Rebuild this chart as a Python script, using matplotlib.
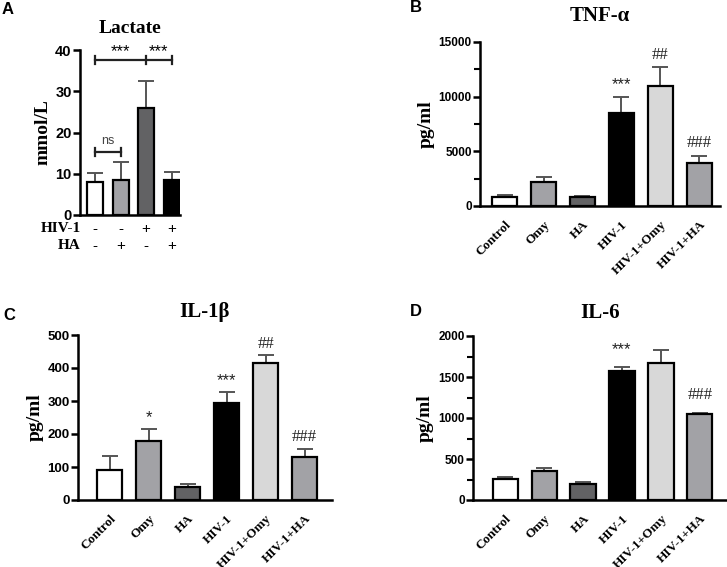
import matplotlib
matplotlib.use("Agg")
import matplotlib.pyplot as plt
import numpy as np

W, H = 727, 567
SERIF = "Liberation Serif"
SANS = "Liberation Sans"

# ---------------- data ----------------
lactate_mean = [8.1, 8.6, 25.9, 8.4]
lactate_err = [2.2, 4.3, 6.7, 2.1]
lactate_hiv = ["-", "-", "+", "+"]
lactate_ha = ["-", "+", "-", "+"]
lactate_colors = ["#ffffff", "#a2a2a6", "#626264", "#000000"]

groups = ["Control", "Omy", "HA", "HIV-1", "HIV-1+Omy", "HIV-1+HA"]
group_colors = ["#ffffff", "#a2a2a6", "#626264", "#000000", "#d8d8d8", "#a2a2a6"]

tnf_mean = [820, 2150, 820, 8500, 11000, 3900]
tnf_err = [200, 520, 100, 1500, 1700, 700]
tnf_sig = ["", "", "", "***", "##", "###"]

il1b_mean = [90, 178, 38, 295, 415, 130]
il1b_err = [43, 37, 12, 32, 23, 25]
il1b_sig = ["", "*", "", "***", "##", "###"]

il6_mean = [260, 355, 200, 1570, 1670, 1045]
il6_err = [20, 40, 25, 55, 160, 20]
il6_sig = ["", "", "", "***", "", "###"]

fig = plt.figure(figsize=(W / 100, H / 100), dpi=100)


def add_ax(left, top, right, bottom):
    return fig.add_axes([left / W, 1 - bottom / H, (right - left) / W, (bottom - top) / H])


def style(ax, ymax, step, minor=None, ylabel="pg/ml", tsize=9):
    ax.set_ylim(0, ymax)
    ax.set_yticks(np.arange(0, ymax + 1, step))
    if minor:
        ax.set_yticks(np.arange(0, ymax + 1, minor), minor=True)
        ax.tick_params(axis="y", which="minor", length=4, width=1.5)
    for s in ["top", "right"]:
        ax.spines[s].set_visible(False)
    for s in ["left", "bottom"]:
        ax.spines[s].set_linewidth(1.8)
    ax.tick_params(axis="y", which="major", length=5, width=1.8, pad=1)
    for lab in ax.get_yticklabels():
        lab.set_fontfamily(SANS)
        lab.set_fontweight("bold")
        lab.set_fontsize(tsize)
    ax.set_ylabel(ylabel, fontfamily=SERIF, fontweight="bold", fontsize=14, labelpad=3)


def bars(ax, means, errs, colors, width=0.65):
    x = np.arange(len(means))
    ax.bar(x, means, width=width, color=colors, edgecolor="black", linewidth=1.6, zorder=2)
    ax.errorbar(x, means, yerr=[np.zeros(len(errs)), errs], fmt="none", ecolor="#555555",
                elinewidth=1.4, capsize=6, capthick=1.4, zorder=1)
    return x


def group_xticks(ax, x):
    ax.set_xticks(x)
    ax.set_xticklabels(groups, rotation=45, ha="right", rotation_mode="anchor",
                       fontfamily=SERIF, fontweight="bold", fontsize=9.5)
    ax.tick_params(axis="x", length=0, pad=9)


def sig(ax, x, means, errs, labels, off):
    for xi, m, e, s in zip(x, means, errs, labels):
        if s:
            ax.text(xi, m + e + off, s, ha="center", va="bottom", fontsize=12,
                    fontfamily=SANS if s.startswith("*") else SERIF, color="#222222")


# ---------------- Panel A ----------------
axA = add_ax(80, 50, 180, 215)
xA = bars(axA, lactate_mean, lactate_err, lactate_colors, width=0.63)
axA.set_xlim(-0.59, 3.33)
style(axA, 40, 10, ylabel="mmol/L", tsize=10.5)
axA.set_xticks([])
axA.set_title("Lactate", fontfamily=SERIF, fontweight="bold", fontsize=14, pad=12)
for xi, h, a in zip(xA, lactate_hiv, lactate_ha):
    axA.text(xi, -3.3, h, ha="center", va="center", fontsize=11, fontfamily=SANS)
    axA.text(xi, -7.4, a, ha="center", va="center", fontsize=11, fontfamily=SANS)
axA.text(-0.55, -3.3, "HIV-1", ha="right", va="center", fontsize=11, fontfamily=SERIF,
         fontweight="bold", clip_on=False)
axA.text(-0.55, -7.4, "HA", ha="right", va="center", fontsize=11, fontfamily=SERIF,
         fontweight="bold", clip_on=False)
# brackets
yb = 37.5
axA.plot([0, 3], [yb, yb], color="#222222", lw=1.6, clip_on=False)
for xx in [0, 2, 3]:
    axA.plot([xx, xx], [yb - 1, yb + 1], color="#222222", lw=1.6, clip_on=False)
axA.text(1.0, yb + 0.3, "***", ha="center", va="bottom", fontsize=12, fontfamily=SANS)
axA.text(2.5, yb + 0.3, "***", ha="center", va="bottom", fontsize=12, fontfamily=SANS)
yn = 15.2
axA.plot([0, 1], [yn, yn], color="#222222", lw=1.6)
for xx in [0, 1]:
    axA.plot([xx, xx], [yn - 1, yn + 1], color="#222222", lw=1.6)
axA.text(0.5, yn + 1.2, "ns", ha="center", va="bottom", fontsize=9, fontfamily=SANS, color="#444444")

# ---------------- Panel B ----------------
axB = add_ax(480, 42, 720, 206)
xB = bars(axB, tnf_mean, tnf_err, group_colors)
axB.set_xlim(-0.63, 5.53)
style(axB, 15000, 5000, minor=2500, tsize=8.5)
group_xticks(axB, xB)
sig(axB, xB, tnf_mean, tnf_err, tnf_sig, 400)
axB.set_title("TNF-α", fontfamily=SERIF, fontweight="bold", fontsize=15, pad=15)

# ---------------- Panel C ----------------
axC = add_ax(78, 335, 332, 500)
xC = bars(axC, il1b_mean, il1b_err, group_colors)
axC.set_xlim(-0.81, 5.7)
style(axC, 500, 100, tsize=9.5)
group_xticks(axC, xC)
sig(axC, xC, il1b_mean, il1b_err, il1b_sig, 12)
axC.set_title("IL-1β", fontfamily=SERIF, fontweight="bold", fontsize=15, pad=13)

# ---------------- Panel D ----------------
axD = add_ax(473, 336, 727, 500)
xD = bars(axD, il6_mean, il6_err, group_colors)
axD.set_xlim(-0.83, 5.7)
style(axD, 2000, 500, minor=250, tsize=8.5)
group_xticks(axD, xD)
sig(axD, xD, il6_mean, il6_err, il6_sig, 120)
axD.set_title("IL-6", fontfamily=SERIF, fontweight="bold", fontsize=15, pad=13)

# panel letters
for letter, px, py in [("A", 2, 10), ("B", 410, 8), ("C", 3, 315), ("D", 410, 311)]:
    fig.text(px / W, 1 - py / H, letter, fontfamily=SANS, fontweight="bold", fontsize=12,
             ha="left", va="center")

fig.savefig("out.png", dpi=100, facecolor="white")
